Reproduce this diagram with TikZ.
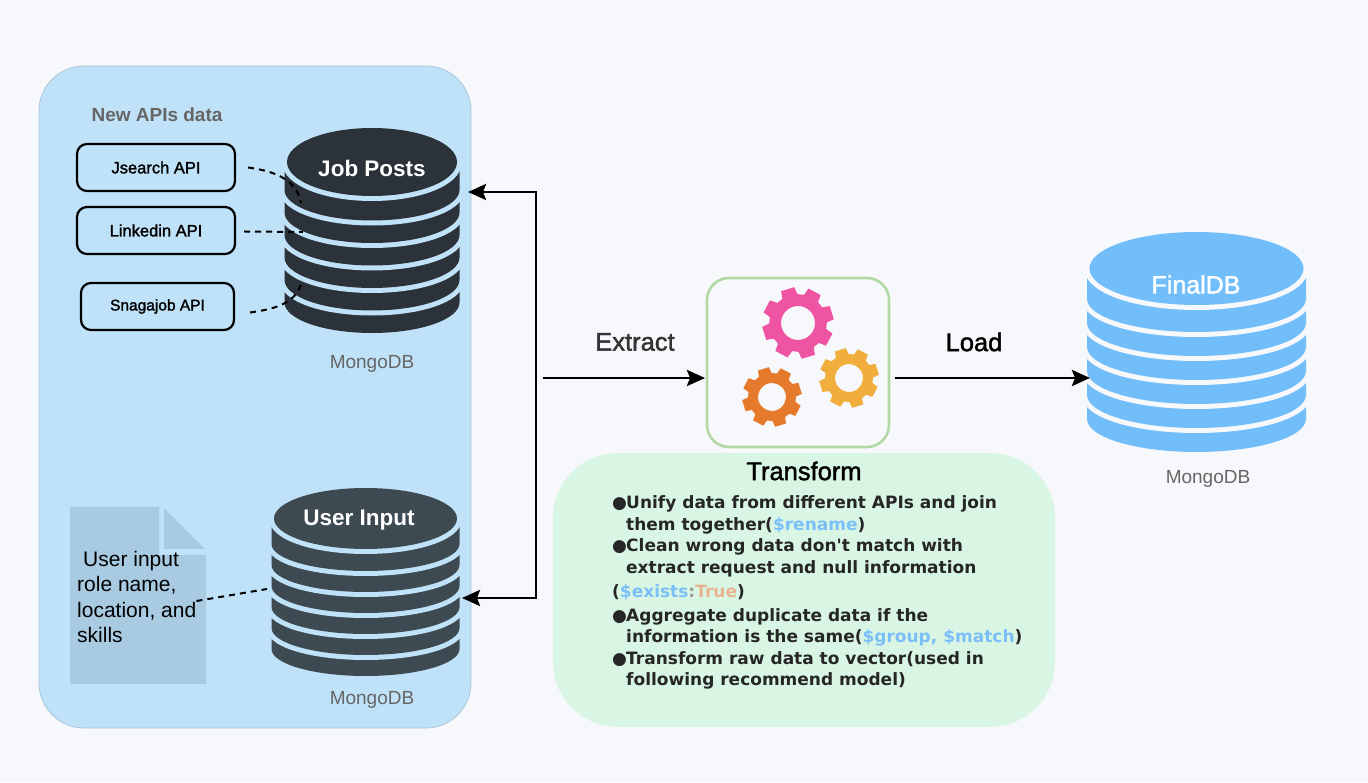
\documentclass[tikz,border=0pt]{standalone}
\usepackage{xcolor}
\usepackage{fontspec}
\setmainfont{Liberation Sans}
\newfontfamily\listfont{DejaVu Sans}
\newfontfamily\medfont[FakeBold=1.6]{Liberation Sans}
\usetikzlibrary{arrows.meta,positioning}

\definecolor{pagebg}{HTML}{F7F8FB}
\definecolor{panelblue}{HTML}{BFE2F8}
\definecolor{panelline}{HTML}{A9C6DA}
\definecolor{panelgreen}{HTML}{D9F6E4}
\definecolor{boxgreen}{HTML}{B2D9A4}
\definecolor{docblue}{HTML}{A9CBE2}
\definecolor{jobdark}{HTML}{2C3239}
\definecolor{userdark}{HTML}{3E4A51}
\definecolor{finalblue}{HTML}{72BEFA}
\definecolor{gearpink}{HTML}{EE54A1}
\definecolor{gearyellow}{HTML}{F2AE3C}
\definecolor{gearorange}{HTML}{E5792C}
\definecolor{codeblue}{HTML}{7CBFF8}
\definecolor{codetan}{HTML}{E8B48F}

\tikzset{
  apibox/.style={draw=black,line width=2.2pt,rounded corners=10pt,minimum height=47pt,
    font=\medfont\fontsize{16.5}{19}\selectfont},
  dbtitle/.style={text=white,font=\fontsize{22.5}{26}\selectfont\bfseries},
  dbcaption/.style={text=black!60,font=\fontsize{19}{22}\selectfont},
  steplabel/.style={font=\medfont\fontsize{25.5}{28}\selectfont},
  flowline/.style={draw=black,line width=2.7pt},
  dashlink/.style={draw=black,line width=2pt,dash pattern=on 6pt off 5pt},
  tip/.style={-{Stealth[length=18pt,width=16pt,inset=3pt]}}
}

% one stacked database, drawn from the lowest layer upwards
\newcommand{\dbstack}[8]{
  \foreach \i in {0,...,5} {
    \pgfmathsetmacro{\yb}{#5+\i*#6+#4-3.5}
    \path[preaction={draw=#8,line width=10pt},fill=#7]
      (#1-#3-2.5,\yb+#6) -- (#1-#3-2.5,\yb)
      arc[start angle=180,end angle=360,x radius=#3+2.5,y radius=#4-3.5]
      -- (#1+#3+2.5,\yb+#6) -- cycle;
  }
  \path[preaction={draw=#8,line width=10pt},fill=#7] (#1,#2) ellipse[x radius=#3,y radius=#4];
}

% one gear: centre, outer radius, hole radius, colour, turn
\newcommand{\gearwheel}[5]{
  \fill[#4,even odd rule,shift={(#1)},rotate=#5]
    (-16:#2*0.8) \foreach \a in {0,45,...,315} {
      -- (\a-16:#2*0.8) -- (\a-11:#2) -- (\a+11:#2) -- (\a+16:#2*0.8)
    } -- cycle (0,0) circle[radius=#3];
}

\begin{document}
\begin{tikzpicture}[x=1pt,y=1pt]
   \useasboundingbox (0,0) rectangle (1368,782);
   \fill[pagebg] (0,0) rectangle (1368,782);

   % Panels
   \node[draw=panelline,fill=panelblue,line width=0.8pt,rounded corners=45pt,
     minimum width=432pt,minimum height=662pt] (sources) at (255,385) {};
   \node[fill=panelgreen,rounded corners=65pt,
     minimum width=502pt,minimum height=274pt] (notes) at (804,192) {};

   % Job Posts side
   \node[dbcaption,font=\fontsize{19}{22}\selectfont\bfseries] (newapis) at (157,667) {New APIs data};
   \node[apibox,minimum width=158pt] (jsearch) at (156,614.5) {Jsearch API};
   \node[apibox,minimum width=158pt] (linkedin) at (156,551.5) {Linkedin API};
   \node[apibox,minimum width=153pt,font=\medfont\fontsize{15.5}{19}\selectfont] (snagajob) at (157.5,475.5) {Snagajob API};
   \dbstack{372}{620}{85}{34}{449}{22.5}{jobdark}{panelblue}
   \node[dbtitle] (jobposts) at (372,613.5) {Job Posts};
   \node[dbcaption] (jobmongo) at (372,418) {MongoDB};

   % User Input side
   \fill[docblue] (70,275) -- (159,275) -- (159,227) -- (206,227) -- (206,98) -- (70,98) -- cycle;
   \fill[docblue] (164,274) -- (205,233) -- (164,233) -- cycle;
   \node[anchor=west,align=left,inner sep=0pt,font=\fontsize{21}{25.5}\selectfont] (userdoc) at (77,185)
     {\hspace*{6pt}User input\\role name,\\location, and\\skills};
   \dbstack{365.5}{263.5}{91.5}{30.5}{106}{21}{userdark}{panelblue}
   \node[dbtitle] (userinput) at (359,262) {User Input};
   \node[dbcaption] (usermongo) at (372,82) {MongoDB};

   % Final database
   \dbstack{1196.5}{513.5}{107}{36.5}{330}{24}{finalblue}{pagebg}
   \node[text=white,font=\medfont\fontsize{25}{28}\selectfont] (finaldb) at (1196,497.5) {FinalDB};
   \node[dbcaption] (finalmongo) at (1208,303) {MongoDB};

   % Transform box
   \node[draw=boxgreen,line width=2.6pt,rounded corners=22pt,
     minimum width=182pt,minimum height=169pt] (transform) at (798,419.5) {};
   \gearwheel{798,459}{36}{17}{gearpink}{17}
   \gearwheel{849,404}{30}{14}{gearyellow}{17}
   \gearwheel{772,385}{30}{14}{gearorange}{17}

   % Labels
   \node[steplabel,text=black!80] (extract) at (635,440) {Extract};
   \node[steplabel] (load) at (974,440) {Load};
   \node[steplabel] (transformlabel) at (804,311) {Transform};
   \node[anchor=west,align=left,inner sep=0pt,text=black!85,font=\listfont\fontsize{17}{21.5}\selectfont\bfseries] (steps) at (612,189.5)
     {\makebox[14pt][l]{●}Unify data from different APIs and join\\
      \hspace*{14pt}them together(\textcolor{codeblue}{\$rename})\\
      \makebox[14pt][l]{●}Clean wrong data don't match with\\
      \hspace*{14pt}extract request and null information\\[2.5pt]
      (\textcolor{codeblue}{\$exists}\textcolor{black!40}{:}\textcolor{codetan}{True})\\[2.5pt]
      \makebox[14pt][l]{●}Aggregate duplicate data if the\\
      \hspace*{14pt}information is the same(\textcolor{codeblue}{\$group, \$match})\\
      \makebox[14pt][l]{●}Transform raw data to vector(used in\\
      \hspace*{14pt}following recommend model)};

   % Ports for the connectors
   \coordinate (jobport) at (468,590);
   \coordinate (userport) at (462,184);
   \coordinate (bustop) at (536,590);
   \coordinate (busbottom) at (536,184);
   \coordinate (extractstart) at (543,404);
   \coordinate (transformin) at (705,404);
   \coordinate (loadstart) at (895,404);
   \coordinate (finalin) at (1090,404);
   \coordinate (jsearchend) at (301,579);
   \coordinate (linkedinend) at (303,550);
   \coordinate (snagajobend) at (302,502);
   \coordinate (userend) at (267,193);

   % Connectors
   \draw[flowline,{Stealth[length=18pt,width=16pt,inset=3pt]}-{Stealth[length=18pt,width=16pt,inset=3pt]}]
     (jobport) -- (bustop) -- (busbottom) -- (userport);
   \draw[flowline,tip] (extractstart) -- (transformin);
   \draw[flowline,tip] (loadstart) -- (finalin);
   \draw[dashlink] ([xshift=12pt]jsearch.east) to[out=-8,in=100] (jsearchend);
   \draw[dashlink] ([xshift=8pt,yshift=-1pt]linkedin.east) -- (linkedinend);
   \draw[dashlink] ([xshift=15pt,yshift=-6pt]snagajob.east) to[out=8,in=-100] (snagajobend);
   \draw[dashlink] ([yshift=-4pt]userdoc.east) -- (userend);
\end{tikzpicture}
\end{document}
